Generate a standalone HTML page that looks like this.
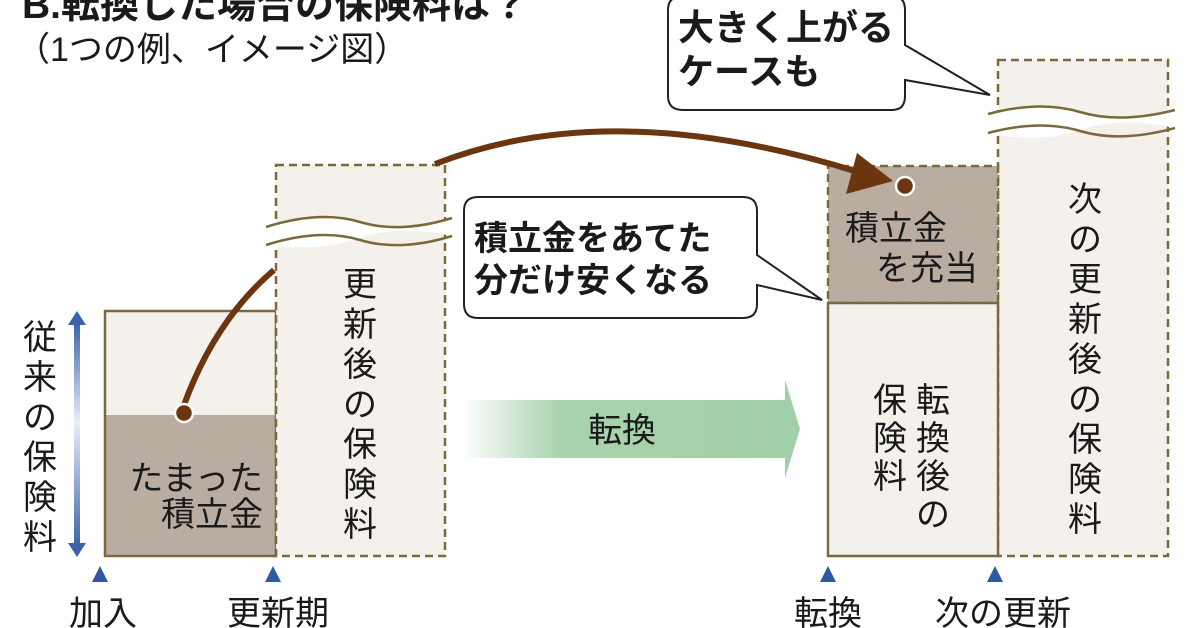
<!DOCTYPE html>
<html><head><meta charset="utf-8"><style>
html,body{margin:0;padding:0;background:#fff;}
svg{display:block;}
text{font-family:"Liberation Sans","Noto Sans CJK JP",sans-serif;fill:#1a1a1a;}
</style></head><body>
<svg width="1200" height="628" viewBox="0 0 1200 628" xmlns="http://www.w3.org/2000/svg">
<defs>
<linearGradient id="blue" x1="0" y1="0" x2="0" y2="1">
<stop offset="0" stop-color="#3a63a8"/><stop offset="0.45" stop-color="#e8eef8"/><stop offset="1" stop-color="#3a63a8"/>
</linearGradient>
<linearGradient id="green" x1="0" y1="0" x2="1" y2="0">
<stop offset="0" stop-color="#a9d3ae" stop-opacity="0"/><stop offset="0.3" stop-color="#a9d3ae"/><stop offset="1" stop-color="#a1cfa7"/>
</linearGradient>
</defs>

<text x="22" y="18" font-size="39" font-weight="bold">B.転換した場合の保険料は？</text>
<text x="16" y="61" font-size="34">（1つの例、イメージ図）</text>

<!-- left box -->
<rect x="105" y="311" width="171" height="245" fill="#f4f0ec"/>
<rect x="105" y="415" width="171" height="141" fill="#b9ada1"/>
<rect x="105" y="311" width="171" height="245" fill="none" stroke="#7a6a3a" stroke-width="2.5"/>
<text x="263" y="490" font-size="34" text-anchor="end">たまった</text>
<text x="263" y="526" font-size="34" text-anchor="end">積立金</text>

<!-- dashed box 1 -->
<rect x="276" y="165" width="169" height="391" fill="#f4f0ec" stroke="#7a6a3a" stroke-width="2.5" stroke-dasharray="8,5"/>
<path d="M266 227 Q320 210 360 222 T452 218 L452 236 Q400 224 360 238 T266 245 Z" fill="#fff"/>
<path d="M266 227 Q320 210 360 222 T452 218 M266 245 Q320 228 360 240 T452 236" fill="none" stroke="#7a6a3a" stroke-width="2.5"/>
<g font-size="34" text-anchor="middle" dominant-baseline="central">
<text x="360" y="285">更</text><text x="360" y="325">新</text><text x="360" y="365">後</text><text x="360" y="405">の</text><text x="360" y="445">保</text><text x="360" y="485">険</text><text x="360" y="525">料</text>
</g>

<!-- blue arrow and label -->
<rect x="74" y="322" width="6" height="224" fill="url(#blue)"/>
<polygon points="77,311 68,325 86,325" fill="#3a63a8"/>
<polygon points="77,557 68,543 86,543" fill="#3a63a8"/>
<g font-size="34" text-anchor="middle" dominant-baseline="central">
<text x="40" y="338">従</text><text x="40" y="378">来</text><text x="40" y="418">の</text><text x="40" y="458">保</text><text x="40" y="498">険</text><text x="40" y="538">料</text>
</g>

<!-- curve small -->
<path d="M184 405 Q215 320 274 270" fill="none" stroke="#6b3510" stroke-width="6"/>
<circle cx="184" cy="413" r="9" fill="#6b3510" stroke="#fff" stroke-width="2.5"/>

<!-- green arrow -->
<rect x="462" y="400" width="325" height="58" fill="url(#green)"/>
<polygon points="785,380 800,429 785,478" fill="#a1cfa7"/>
<text x="622" y="442" font-size="34" text-anchor="middle">転換</text>

<!-- box 3 -->
<rect x="998" y="60" width="170" height="496" fill="#f4f0ec" stroke="#7a6a3a" stroke-width="2.5" stroke-dasharray="8,5"/>
<path d="M988 114 Q1040 100 1080 112 T1175 110 L1175 128 Q1120 116 1080 130 T988 133 Z" fill="#fff"/>
<path d="M988 114 Q1040 100 1080 112 T1175 110 M988 133 Q1040 119 1080 131 T1175 128" fill="none" stroke="#7a6a3a" stroke-width="2.5"/>
<g font-size="34" text-anchor="middle" dominant-baseline="central">
<text x="1085" y="200">次</text><text x="1085" y="240">の</text><text x="1085" y="280">更</text><text x="1085" y="320">新</text><text x="1085" y="360">後</text><text x="1085" y="400">の</text><text x="1085" y="440">保</text><text x="1085" y="480">険</text><text x="1085" y="520">料</text>
</g>

<!-- box 2 -->
<rect x="828" y="166" width="170" height="137" fill="#b9ada1" stroke="#7a6a3a" stroke-width="2.5" stroke-dasharray="8,5"/>
<rect x="828" y="303" width="170" height="253" fill="#f4f0ec" stroke="#7a6a3a" stroke-width="2.5"/>
<circle cx="905" cy="186" r="9" fill="#6b3510" stroke="#fff" stroke-width="2.5"/>
<text x="845" y="240" font-size="34">積立金</text>
<text x="978" y="280" font-size="34" text-anchor="end">を充当</text>
<g font-size="34" text-anchor="middle" dominant-baseline="central">
<text x="933" y="401">転</text><text x="933" y="439">換</text><text x="933" y="477">後</text><text x="933" y="515">の</text>
<text x="890" y="401">保</text><text x="890" y="439">険</text><text x="890" y="477">料</text>
</g>

<!-- big arrow (drawn after box 2) -->
<path d="M435 164 Q610 95 858 172" fill="none" stroke="#6b3510" stroke-width="6"/>
<path d="M893 181 L846 194 L857 153 Z" fill="#6b3510"/>

<!-- callout 1 -->
<path d="M683 -4 H892 Q905 -4 905 10 V45 L990 95 L905 80 V96 Q905 110 892 110 H683 Q668 110 668 96 V10 Q668 -4 683 -4 Z" fill="#fff" stroke="#222" stroke-width="2"/>
<text x="678" y="40" font-size="36" font-weight="bold">大きく上がる</text>
<text x="678" y="84" font-size="36" font-weight="bold">ケースも</text>

<!-- callout 2 -->
<path d="M478 197 H743 Q757 197 757 211 V255 L822 300 L757 285 V304 Q757 318 743 318 H478 Q464 318 464 304 V211 Q464 197 478 197 Z" fill="#fff" stroke="#222" stroke-width="2"/>
<text x="474" y="250" font-size="34" font-weight="bold">積立金をあてた</text>
<text x="474" y="292" font-size="34" font-weight="bold">分だけ安くなる</text>

<!-- bottom markers -->
<g fill="#2f5aa0">
<polygon points="100,566 92,582 108,582"/>
<polygon points="273,566 265,582 281,582"/>
<polygon points="828,566 820,582 836,582"/>
<polygon points="995,566 987,582 1003,582"/>
</g>
<g font-size="34" text-anchor="middle">
<text x="103" y="625">加入</text>
<text x="278" y="625">更新期</text>
<text x="828" y="625">転換</text>
<text x="1003" y="625">次の更新</text>
</g>
</svg>
</body></html>
